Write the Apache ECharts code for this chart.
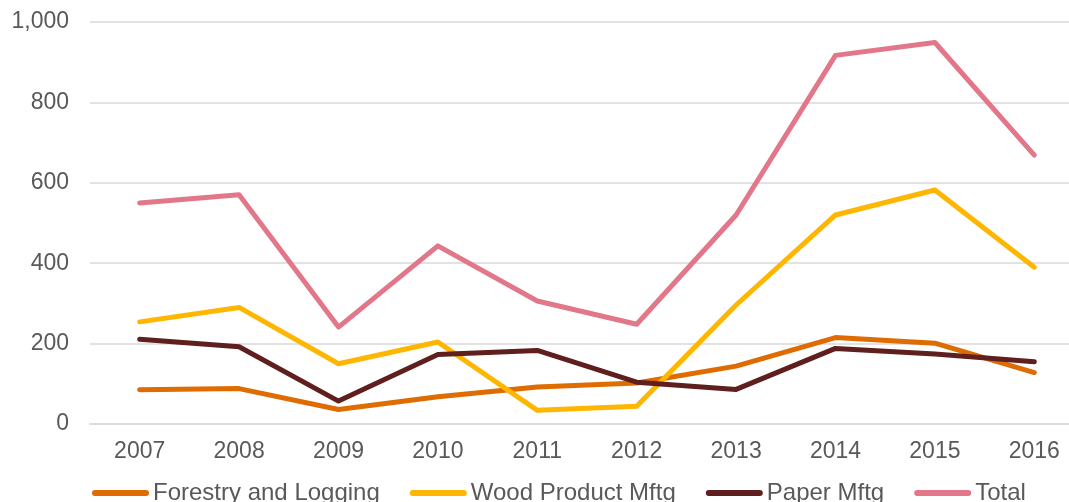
<!DOCTYPE html>
<html>
<head>
<meta charset="utf-8">
<script src="https://cdn.jsdelivr.net/npm/echarts@6/dist/echarts.min.js"></script>
<style>
html,body{margin:0;padding:0;background:#fff;overflow:hidden;}
#chart{width:1069px;height:502px;}
</style>
</head>
<body>
<div id="chart"></div>
<script>
const years = ['2007','2008','2009','2010','2011','2012','2013','2014','2015','2016'];
const forestry = [85, 88, 36, 68, 92, 102, 144, 215, 201, 128];
const wood = [254, 290, 150, 204, 34, 44, 296, 520, 582, 390];
const paper = [211, 192, 57, 173, 183, 104, 86, 188, 174, 155];
const total = [550, 570, 241, 443, 306, 248, 520, 917, 949, 669];
const seriesNames = ['Forestry and Logging', 'Wood Product Mftg', 'Paper Mftg', 'Total'];
const colors = ['#DE6C00', '#FFB600', '#5E1F1E', '#E2778A'];
const yTicks = [0, 200, 400, 600, 800, 1000];

const chart = echarts.init(document.getElementById('chart'));
const font = 'Liberation Sans, Arial, sans-serif';
const seriesData = [forestry, wood, paper, total];
chart.setOption({
  animation: false,
  color: colors,
  grid: {left: 90, width: 994, top: 22, height: 402, containLabel: false, outerBoundsMode: 'none'},
  legend: {
    left: 92, top: 481, padding: 0,
    icon: 'path://M3,0 H54 A3,3 0 0 1 54,6 H3 A3,3 0 0 1 3,0 Z',
    itemWidth: 57, itemHeight: 6, itemGap: 30,
    textStyle: {fontFamily: font, fontSize: 24, color: '#595959', padding: [0, 0, 0, -1]},
    data: seriesNames
  },
  xAxis: {
    type: 'category', data: years,
    axisLine: {lineStyle: {color: '#d9d9d9', width: 1.5}},
    axisTick: {show: false},
    axisLabel: {fontFamily: font, fontSize: 23, color: '#595959', margin: 16}
  },
  yAxis: {
    type: 'value', min: yTicks[0], max: yTicks[yTicks.length - 1], interval: 200,
    axisLine: {show: false}, axisTick: {show: false},
    splitLine: {lineStyle: {color: '#d9d9d9', width: 1.5}},
    axisLabel: {fontFamily: font, fontSize: 23, color: '#595959', margin: 21,
      formatter: v => v.toLocaleString('en-US')}
  },
  series: seriesNames.map((n, i) => ({
    name: n, type: 'line', data: seriesData[i],
    showSymbol: false, symbol: 'none',
    lineStyle: {width: 5, color: colors[i], cap: 'round', join: 'round'},
    itemStyle: {color: colors[i]}
  }))
});
</script>
</body>
</html>
